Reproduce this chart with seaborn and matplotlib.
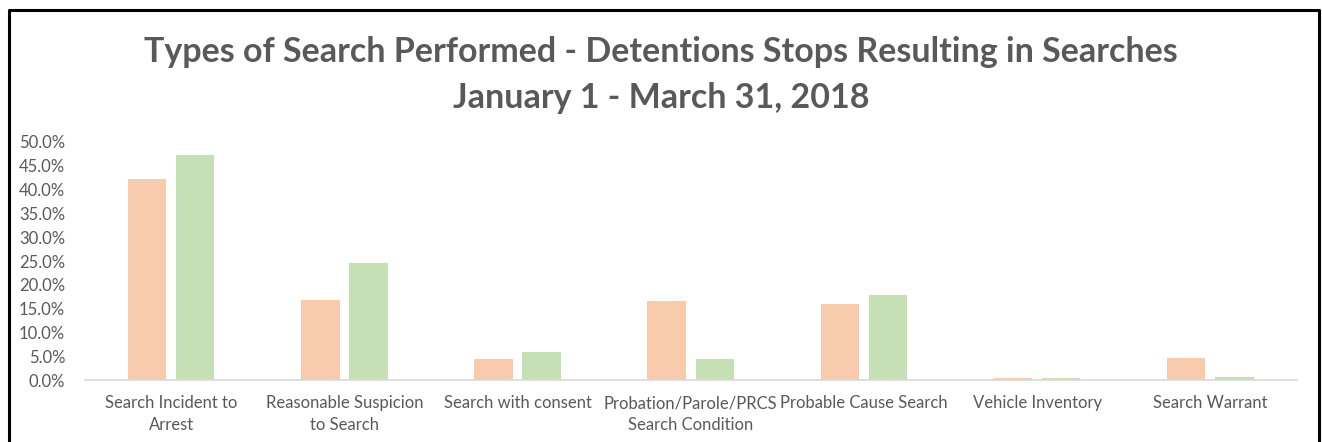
import pandas as pd
import seaborn as sns
import matplotlib.pyplot as plt
from matplotlib.lines import Line2D
from matplotlib.ticker import FuncFormatter

# search types (x categories)
categories = ["Search Incident to\nArrest", "Reasonable Suspicion\nto Search",
              "Search with consent", "Probation/Parole/PRCS\nSearch Condition",
              "Probable Cause Search", "Vehicle Inventory", "Search Warrant"]

# share of searches
series_a = [0.423, 0.168, 0.044, 0.167, 0.159, 0.0035, 0.046]
series_b = [0.473, 0.245, 0.060, 0.044, 0.179, 0.005, 0.007]
series_names = ["Series 1", "Series 2"]

yticks = [i * 0.05 for i in range(11)]

df = pd.DataFrame({
    "category": categories * 2,
    "share": series_a + series_b,
    "series": [series_names[0]] * len(categories) + [series_names[1]] * len(categories),
})

sns.set_theme(style="white")
plt.rcParams['font.family'] = ['Lato', 'DejaVu Sans']
gray = "#595959"

fig = plt.figure(figsize=(13.22, 4.42), dpi=100)
ax = fig.add_axes([0.064, 0.140, 0.917, 0.539])

sns.barplot(data=df, x="category", y="share", hue="series",
            palette=["#F8CBAD", "#C5E0B4"], saturation=1, width=0.555, gap=0.2,
            linewidth=0, legend=False, ax=ax)

ax.set_ylim(0, 0.5)
ax.set_yticks(yticks)
ax.yaxis.set_major_formatter(FuncFormatter(lambda v, p: f"{v*100:.1f}%"))
ax.set_xlabel("")
ax.set_ylabel("")
ax.tick_params(axis="both", colors=gray, labelsize=12, length=0)
ax.tick_params(axis="y", pad=14)
ax.tick_params(axis="x", pad=11)
for lbl in ax.get_xticklabels():
    lbl.set_linespacing(1.45)
for s in ["top", "right", "left"]:
    ax.spines[s].set_visible(False)
ax.spines["bottom"].set_color("#D9D9D9")
ax.spines["bottom"].set_linewidth(1.2)

fig.text(0.5, 0.882, "Types of Search Performed - Detentions Stops Resulting in Searches",
         ha="center", va="center", fontsize=24.5, fontweight="bold", color=gray)
fig.text(0.5, 0.778, "January 1 - March 31, 2018",
         ha="center", va="center", fontsize=24.5, fontweight="bold", color=gray)

# chart border (left, top, right)
x0, x1, yt = 9 / 1322, 1319 / 1322, 1 - 10 / 442
fig.add_artist(Line2D([x0, x0, x1, x1], [0, yt, yt, 0], color="black", linewidth=2.2,
                      transform=fig.transFigure))

fig.savefig("out.png", dpi=100)
